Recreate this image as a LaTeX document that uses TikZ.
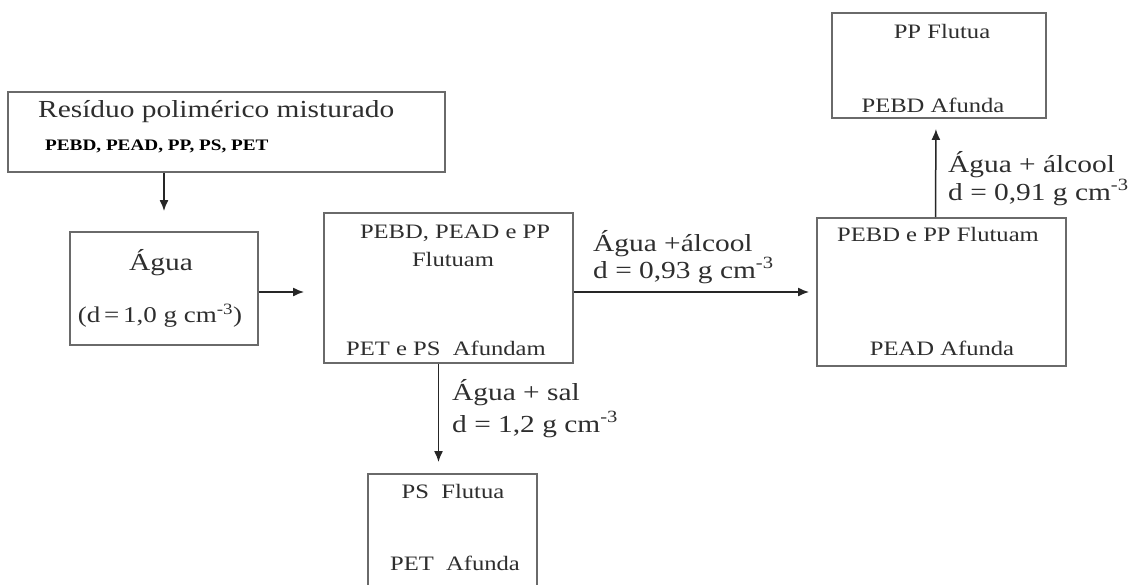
\documentclass[tikz,border=0pt]{standalone}
\usepackage{fontspec}
\setmainfont[FakeStretch=1.2]{Liberation Serif}
\usepackage{xcolor}
\usetikzlibrary{arrows.meta,positioning}
\definecolor{txtgray}{HTML}{2E2E2E}
\definecolor{boxgray}{HTML}{6A6A6A}

\begin{document}
\begin{tikzpicture}[x=1pt, y=-1pt,
    box/.style={rectangle, draw=boxgray, line width=1.9pt, inner sep=0pt},
    lbl/.style={anchor=base, text=txtgray, inner sep=0pt, font=\fontsize{20.5}{24}\selectfont},
    big/.style={anchor=base, text=txtgray, inner sep=0pt, font=\fontsize{24.5}{28}\selectfont},
    arr/.style={-{Latex[length=11pt,width=9pt]}, draw=black!85, line width=1.5pt},
]
\clip (0,0) rectangle (1133,584);
\fill[white] (0,0) rectangle (1133,584);
% boxes
\node[box, minimum width=437pt, minimum height=80pt] (res) at (226.5,132) {};
\node[box, minimum width=188pt, minimum height=113pt] (agua) at (164,288.5) {};
\node[box, minimum width=249pt, minimum height=150pt] (mix) at (448.5,288) {};
\node[box, minimum width=249pt, minimum height=148pt] (lev) at (941.5,292) {};
\node[box, minimum width=214pt, minimum height=105pt] (pp) at (939,65.5) {};
\node[box, minimum width=169pt, minimum height=140pt] (ps) at (452.5,544) {};
% texts in boxes
\node[big, anchor=base west] (resT) at (38,117) {Resíduo polimérico misturado};
\node[anchor=base west, inner sep=0pt, text=black, font=\fontsize{16}{18}\selectfont\bfseries] (resL) at (45,150) {PEBD, PEAD, PP, PS, PET};
\node[big] (aguaT) at (161,270) {Água};
\node[big, font=\fontsize{22.5}{26}\selectfont] (aguaD) at (160,322) {(d\,=\,1,0 g cm\textsuperscript{-3})};
\node[lbl] (mixT) at (455,238) {PEBD, PEAD e PP};
\node[lbl] (mixF) at (453,266) {Flutuam};
\node[lbl] (mixA) at (446,355) {PET e PS\ \ Afundam};
\node[lbl] (levT) at (938,241) {PEBD e PP Flutuam};
\node[lbl] (levA) at (942,355) {PEAD Afunda};
\node[lbl] (ppT) at (942,38) {PP Flutua};
\node[lbl] (ppA) at (933,112) {PEBD Afunda};
\node[lbl] (psT) at (453,498) {PS\ \ Flutua};
\node[lbl] (psA) at (455,570) {PET\ \ Afunda};
% arrows
\draw[arr, shorten >=20pt] (agua.north |- res.south) -- (agua.north);
\draw[arr, shorten >=19pt] ([yshift=-3.5pt]agua.east) -- ([yshift=-4pt]mix.west);
\draw[arr, shorten >=7pt] ([yshift=-4pt]mix.east) -- (lev.west);
\draw[arr, shorten >=11pt] ([xshift=-10pt]mix.south) -- ([xshift=-14pt]ps.north);
\draw[arr, shorten >=10pt] ([xshift=-6pt]lev.north) -- ([xshift=-3pt]pp.south);
% arrow labels
\node[big, anchor=base west] (e1a) at (593,251) {Água +álcool};
\node[big, anchor=base west] (e1b) at (593,278) {d = 0,93 g cm\textsuperscript{-3}};
\node[big, anchor=base west] (e2a) at (452,400) {Água + sal};
\node[big, anchor=base west] (e2b) at (452,432) {d = 1,2 g cm\textsuperscript{-3}};
\node[big, anchor=base west] (e3a) at (948,172) {Água + álcool};
\node[big, anchor=base west] (e3b) at (948,200) {d = 0,91 g cm\textsuperscript{-3}};
\end{tikzpicture}
\end{document}
